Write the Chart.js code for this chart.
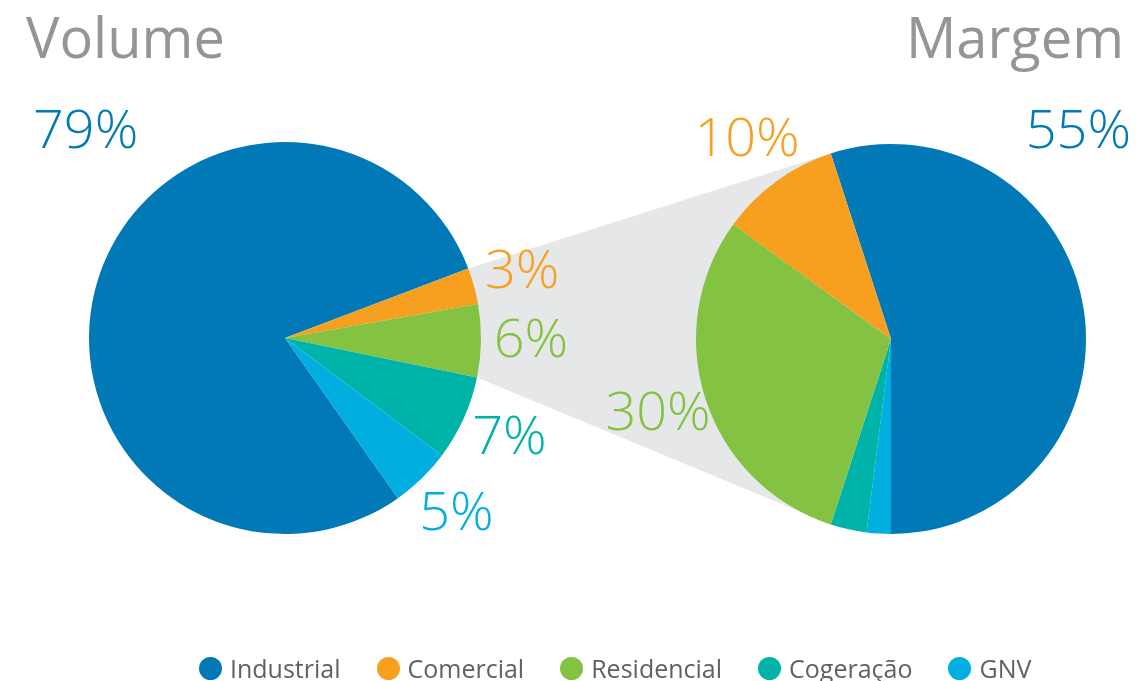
<!DOCTYPE html>
<html>
<head>
<meta charset="utf-8">
<script src="https://cdn.jsdelivr.net/npm/chart.js@4/dist/chart.umd.min.js"></script>
<style>
  html, body { margin: 0; padding: 0; background: #fff; }
  body { width: 1137px; height: 681px; position: relative; overflow: hidden; font-family: "Open Sans", sans-serif; }
  canvas { position: absolute; left: 0; top: 0; }
  #margemCanvas { z-index: 1; }
  #volumeCanvas { z-index: 2; }
  .title { position: absolute; top: 8px; font-size: 56px; color: #939598; z-index: 3; line-height: 1; }
  #legend { position: absolute; left: 199px; top: 654px; z-index: 3; display: flex; font-size: 25px; color: #606163; line-height: 28px; }
  #legend .item { display: flex; align-items: center; margin-right: 36px; }
  #legend .dot { width: 23px; height: 23px; border-radius: 50%; margin-right: 8px; }
</style>
</head>
<body>
<div class="title" style="left:26px;">Volume</div>
<div class="title" style="right:13px;">Margem</div>
<canvas id="margemCanvas" width="1137" height="681"></canvas>
<canvas id="volumeCanvas" width="1137" height="681"></canvas>
<div id="legend"></div>
<script>
// categories and values (percent)
const categories = ['Industrial', 'Comercial', 'Residencial', 'Cogeração', 'GNV'];
const colors = ['#0079b6', '#f7a01f', '#84c241', '#00b3a9', '#00aee0'];
const volumeValues = [79, 3, 6, 7, 5];
const margemValues = [55, 10, 30, 3, 2];

// right pie goes the other way round, so feed it in this order
const margemOrder = [0, 4, 3, 2, 1];

// percent labels around a pie
const labelPlugin = {
  id: 'pctLabels',
  afterDatasetsDraw(chart, args, opts) {
    const ctx = chart.ctx;
    const meta = chart.getDatasetMeta(0);
    const idx = opts.order;
    ctx.save();
    ctx.font = '300 54px "Open Sans", sans-serif';
    meta.data.forEach((arc, i) => {
      const cat = idx[i];
      const v = opts.values[cat];
      const txt = v + '%';
      ctx.fillStyle = colors[cat];
      if (cat === 0) {
        ctx.textAlign = opts.bigAlign;
        ctx.textBaseline = 'alphabetic';
        ctx.fillText(txt, opts.bigX, opts.bigY);
        return;
      }
      if (v < opts.minValue) return;
      const p = arc.getProps(['x', 'y', 'startAngle', 'endAngle', 'outerRadius'], true);
      const mid = (p.startAngle + p.endAngle) / 2;
      const r = p.outerRadius + 50;
      ctx.textAlign = 'center';
      ctx.textBaseline = 'middle';
      ctx.fillText(txt, p.x + Math.cos(mid) * r, p.y + Math.sin(mid) * r);
    });
    ctx.restore();
  }
};

function pieConfig(values, order, rotation, padding, labelOpts) {
  return {
    type: 'pie',
    data: {
      labels: order.map(i => categories[i]),
      datasets: [{
        data: order.map(i => values[i]),
        backgroundColor: order.map(i => colors[i]),
        borderWidth: 0
      }]
    },
    options: {
      responsive: false,
      animation: false,
      rotation: rotation,
      layout: { padding: padding },
      plugins: {
        legend: { display: false },
        tooltip: { enabled: false },
        pctLabels: Object.assign({ values: values, order: order }, labelOpts)
      }
    },
    plugins: [labelPlugin]
  };
}

const volumeChart = new Chart(
  document.getElementById('volumeCanvas'),
  pieConfig(volumeValues, [0, 1, 2, 3, 4], 144.8,
    { left: 89, right: 656, top: 142, bottom: 147 },
    { bigX: 33, bigY: 148, bigAlign: 'left', minValue: 0 })
);

// grey band joining Comercial + Residencial of both pies
const bandPlugin = {
  id: 'band',
  beforeDatasetsDraw(chart) {
    const lm = volumeChart.getDatasetMeta(0).data;
    const rm = chart.getDatasetMeta(0).data;
    const pt = (arc, ang) => {
      const p = arc.getProps(['x', 'y', 'outerRadius', 'startAngle', 'endAngle'], true);
      const a = ang === 's' ? p.startAngle : p.endAngle;
      return [p.x + Math.cos(a) * p.outerRadius, p.y + Math.sin(a) * p.outerRadius];
    };
    const l1 = pt(lm[1], 's'), l2 = pt(lm[2], 'e');
    const r1 = pt(rm[4], 'e'), r2 = pt(rm[3], 's');
    const ctx = chart.ctx;
    ctx.save();
    ctx.fillStyle = '#e6e7e8';
    ctx.beginPath();
    ctx.moveTo(l1[0], l1[1]);
    ctx.lineTo(r1[0], r1[1]);
    ctx.lineTo(r2[0], r2[1]);
    ctx.lineTo(l2[0], l2[1]);
    ctx.closePath();
    ctx.fill();
    ctx.restore();
  }
};

const margemCfg = pieConfig(margemValues, margemOrder, -18,
  { left: 696, right: 51, top: 144, bottom: 147 },
  { bigX: 1131, bigY: 148, bigAlign: 'right', minValue: 5 });
margemCfg.plugins.push(bandPlugin);
const margemChart = new Chart(document.getElementById('margemCanvas'), margemCfg);

// legend
const legend = document.getElementById('legend');
categories.forEach((c, i) => {
  const item = document.createElement('div');
  item.className = 'item';
  const dot = document.createElement('span');
  dot.className = 'dot';
  dot.style.background = colors[i];
  const t = document.createElement('span');
  t.textContent = c;
  item.appendChild(dot);
  item.appendChild(t);
  legend.appendChild(item);
});
</script>
</body>
</html>
